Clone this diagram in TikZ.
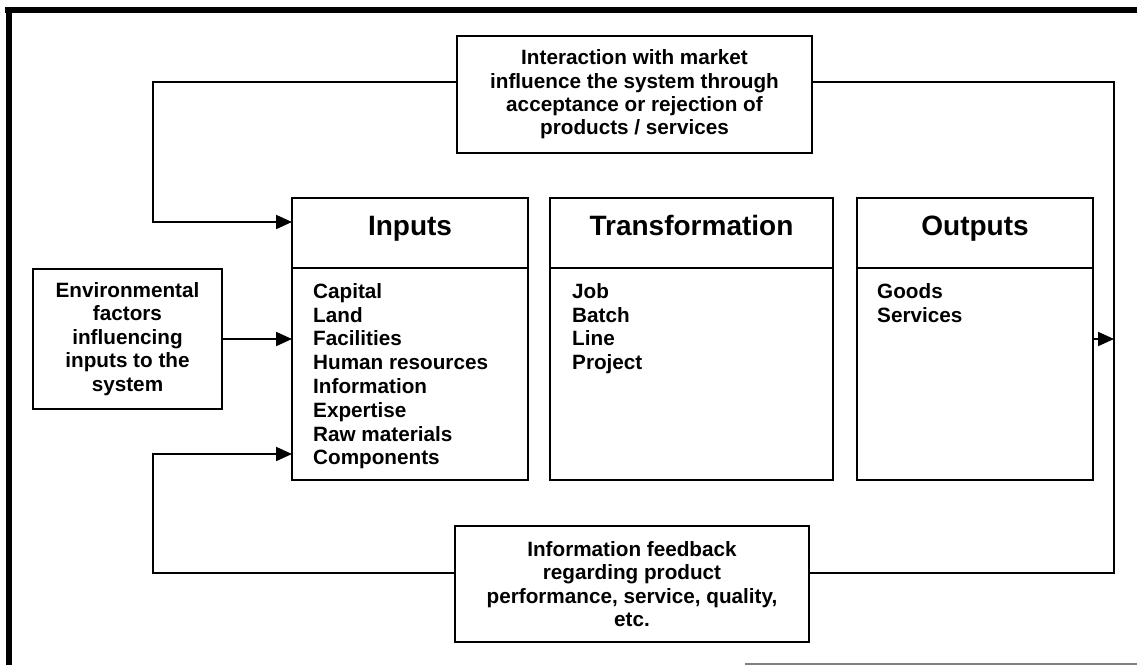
\documentclass[tikz,border=0pt]{standalone}
\usepackage{fontspec}
\setmainfont{Liberation Sans}
\usetikzlibrary{arrows.meta}
\newcommand\bodyf{\fontsize{20.7}{23.8}\selectfont\bfseries}
\newcommand\boxf{\fontsize{20.7}{23.4}\selectfont\bfseries}
\newcommand\headf{\fontsize{28}{32}\selectfont\bfseries}
\begin{document}
\begin{tikzpicture}[x=1pt,y=-1pt,
  box/.style={draw=black,line width=2.2pt,inner sep=0pt,outer sep=0pt,fill=white},
  conn/.style={draw=black,line width=2pt},
  arr/.style={conn,-{Triangle[length=16pt,width=14pt]}},
  headtxt/.style={anchor=base,font=\headf,inner sep=0pt},
  listtxt/.style={anchor=north west,align=left,font=\bodyf,inner sep=0pt},
  ctxt/.style={align=center,font=\boxf}]
\useasboundingbox (0,0) rectangle (1137,665);
% frame
\draw[line width=6pt] (5,9.5) -- (1137,9.5);
\draw[line width=5.5pt] (9,7) -- (9,665);
\draw[gray,line width=1.5pt] (745,664) -- (1137,664);
% top and bottom boxes
\node[box,ctxt,minimum width=355pt,minimum height=117pt] (topbox) at (634.5,94.5)
  {Interaction with market\\influence the system through\\acceptance or rejection of\\products / services};
\node[box,ctxt,minimum width=354pt,minimum height=116pt] (botbox) at (632,584)
  {Information feedback\\regarding product\\performance, service, quality,\\etc.};
\node[box,ctxt,minimum width=189pt,minimum height=140pt] (env) at (127.5,339)
  {Environmental\\factors\\influencing\\inputs to the\\system};
% inputs
\node[box,minimum width=236pt,minimum height=70pt] (inhead) at (410,233) {};
\node[box,minimum width=236pt,minimum height=212pt] (inbody) at (410,374) {};
\node[headtxt] (inheadtxt) at (410,235) {Inputs};
\node[listtxt] (inlist) at (313,283) {Capital\\Land\\Facilities\\Human resources\\Information\\Expertise\\Raw materials\\Components};
% transformation
\node[box,minimum width=283pt,minimum height=70pt] (trhead) at (691.5,233) {};
\node[box,minimum width=283pt,minimum height=212pt] (trbody) at (691.5,374) {};
\node[headtxt] (trheadtxt) at (691.5,235) {Transformation};
\node[listtxt] (trlist) at (572,283) {Job\\Batch\\Line\\Project};
% outputs
\node[box,minimum width=236pt,minimum height=70pt] (outhead) at (975,233) {};
\node[box,minimum width=236pt,minimum height=212pt] (outbody) at (975,374) {};
\node[headtxt] (outheadtxt) at (975,235) {Outputs};
\node[listtxt] (outlist) at (877,283) {Goods\\Services};
% route corners
\coordinate (cTL) at (152.5,82);
\coordinate (cTR) at (1114,82);
\coordinate (cBR) at (1114,573);
\coordinate (cBL) at (152.5,573);
\coordinate (yA) at (0,222);
\coordinate (yC) at (0,454);
% connectors
\draw[arr] (topbox.west |- cTL) -- (cTL) -- (cTL |- yA) -- (inhead.west |- yA);
\draw[conn] (topbox.east |- cTR) -- (cTR) -- (cBR) -- (botbox.east |- cBR);
\draw[arr] (botbox.west |- cBL) -- (cBL) -- (cBL |- yC) -- (inbody.west |- yC);
\draw[arr] (env.east) -- (inbody.west |- env.east);
\draw[arr] (outbody.east |- env.east) -- (cBR |- env.east);
\end{tikzpicture}
\end{document}
